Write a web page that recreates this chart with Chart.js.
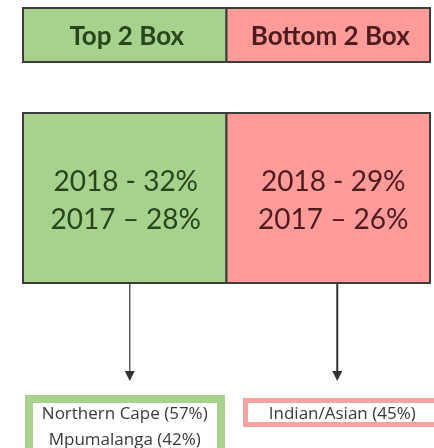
<!DOCTYPE html>
<html>
<head>
<meta charset="utf-8">
<script src="https://cdn.jsdelivr.net/npm/chart.js@4"></script>
<style>
  html, body { margin: 0; padding: 0; background: #fff; }
  #wrap { width: 434px; height: 448px; position: relative; }
</style>
</head>
<body>
<div id="wrap"><canvas id="chart"></canvas></div>
<script>
// two boxes, each with the 2018 and 2017 share and the segment that drives it
const categories = ['Top 2 Box', 'Bottom 2 Box'];
const share2018 = [32, 29];
const share2017 = [28, 26];
const drivers = [
    ['Northern Cape (57%)', 'Mpumalanga (42%)'],
    ['Indian/Asian (45%)']
];

const fills = ['#a9d18e', '#ff9b9b'];
const inks = ['#24471c', '#4e1c1c'];
const driverBorders = ['#a9d18e', '#f5a3a3'];

const boxDiagram = {
    id: 'boxDiagram',
    afterDraw(chart) {
        const ctx = chart.ctx;
        const area = chart.chartArea;
        const xs = chart.scales.x;
        const band = (area.right - area.left) / categories.length;

        ctx.save();
        ctx.textAlign = 'center';
        ctx.textBaseline = 'middle';
        for (let i = 0; i < categories.length; i++) {
            const cx = xs.getPixelForValue(i);
            const left = cx - band / 2;
            const hTop = area.top - 105;
            const hH = 54;
            const mH = area.bottom - area.top;

            // header + main cell
            ctx.fillStyle = fills[i];
            ctx.fillRect(left, hTop, band, hH);
            ctx.fillRect(left, area.top, band, mH);
            ctx.strokeStyle = '#3c3c3c';
            ctx.lineWidth = 2;
            ctx.strokeRect(left, hTop, band, hH);
            ctx.strokeRect(left, area.top, band, mH);

            ctx.fillStyle = inks[i];
            ctx.font = 'bold 26px Lato';
            ctx.fillText(categories[i], cx + 2, hTop + hH / 2 + 2);
            ctx.font = '28px Lato';
            const my = area.top + mH / 2;
            ctx.fillText('2018 - ' + share2018[i] + '%', cx + 1 + i * 4, my - 16);
            ctx.fillText('2017 \u2013 ' + share2017[i] + '%', cx + 1 + i * 4, my + 22);

            // arrow down to the driver
            const ax = cx + 5 + i * 4;
            const tip = area.bottom + 98;
            ctx.strokeStyle = i === 0 ? '#5c5c5c' : '#333333';
            ctx.lineWidth = i === 0 ? 1.5 : 2;
            ctx.beginPath();
            ctx.moveTo(ax, area.bottom + 1);
            ctx.lineTo(ax, tip - 8);
            ctx.stroke();
            ctx.fillStyle = '#333333';
            ctx.beginPath();
            ctx.moveTo(ax - 5, tip - 10);
            ctx.lineTo(ax + 5, tip - 10);
            ctx.lineTo(ax, tip);
            ctx.closePath();
            ctx.fill();

            // driver box
            const lines = drivers[i];
            const dTop = area.bottom + 112 + i * 3;
            const dLeft = i === 0 ? left + 2 : left + 16.5;
            const dRight = i === 0 ? left + band - 1.5 : chart.width + 10;
            const bw = i === 0 ? 8 : 5;
            const dH = i === 0 ? 80 : 29;
            ctx.fillStyle = driverBorders[i];
            ctx.fillRect(dLeft, dTop, dRight - dLeft, dH);
            ctx.fillStyle = '#ffffff';
            ctx.fillRect(dLeft + bw, dTop + bw, dRight - dLeft - 2 * bw, dH - 2 * bw);
            ctx.fillStyle = '#3a3a3a';
            ctx.font = '17px "Open Sans"';
            const tx = i === 0 ? cx : cx + 14;
            lines.forEach((t, k) => {
                ctx.fillText(t, tx, area.bottom + 131 + k * 26);
            });
        }
        ctx.restore();
    }
};

new Chart(document.getElementById('chart'), {
    type: 'bar',
    data: { labels: categories, datasets: [] },
    options: {
        responsive: true,
        maintainAspectRatio: false,
        animation: false,
        layout: { padding: { left: 23, right: 4, top: 113, bottom: 165 } },
        plugins: { legend: { display: false }, tooltip: { enabled: false } },
        scales: {
            x: { type: 'category', display: false, offset: true },
            y: { display: false, min: 0, max: 1 }
        }
    },
    plugins: [boxDiagram]
});
</script>
</body>
</html>
